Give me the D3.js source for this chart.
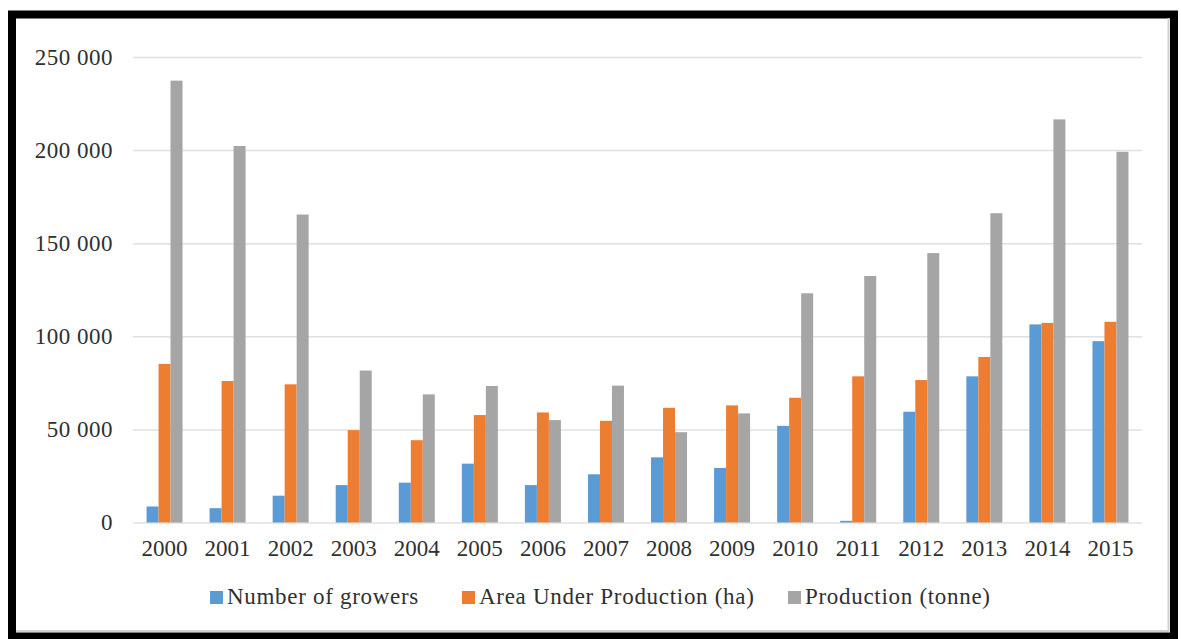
<!DOCTYPE html>
<html>
<head>
<meta charset="utf-8">
<script src="https://cdn.jsdelivr.net/npm/d3@7/dist/d3.min.js"></script>
<style>
  html, body { margin: 0; padding: 0; background: #fff; }
  svg { display: block; }
  text { font-family: "Liberation Serif", "Times New Roman", serif; fill: #303030; }
</style>
</head>
<body>
<svg id="chart" width="1181" height="639"></svg>
<script>
// Growers, area and production by year
const years = ["2000","2001","2002","2003","2004","2005","2006","2007",
               "2008","2009","2010","2011","2012","2013","2014","2015"];
const growers    = [8600, 7700, 14400, 20100, 21400, 31600, 20100, 25900,
                    35000, 29300, 51900, 900, 59500, 78500, 106400, 97400];
const areaHa     = [85200, 76000, 74200, 49600, 44200, 57700, 59100, 54600,
                    61600, 62900, 67000, 78500, 76500, 88900, 107200, 107800];
const production = [237300, 202200, 165400, 81600, 68800, 73300, 55000, 73500,
                    48500, 58600, 123100, 132400, 144700, 166100, 216500, 199100];
const seriesNames = ["Number of growers", "Area Under Production (ha)", "Production (tonne)"];
const seriesColors = ["#5B9BD5", "#ED7D31", "#A5A5A5"];
const yTicks = [0, 50000, 100000, 150000, 200000, 250000];

const seriesValues = [growers, areaHa, production];

const svg = d3.select("#chart");

// outer frame
svg.append("rect")
  .attr("x", 12).attr("y", 14.5)
  .attr("width", 1162).attr("height", 622)
  .attr("fill", "#fff")
  .attr("stroke", "#000").attr("stroke-width", 8);

// light chart-area edge on the right and bottom
svg.append("path")
  .attr("d", "M1168.5,18 V631 H16")
  .attr("fill", "none")
  .attr("stroke", "#cfcfcf").attr("stroke-width", 2);

const plotLeft = 133, plotRight = 1142, plotTop = 57, plotBottom = 522.5;

const x0 = d3.scaleBand().domain(years).range([plotLeft, plotRight]).padding(0);
const groupW = 36;
const x1 = d3.scaleBand().domain(seriesNames)
  .range([(x0.bandwidth() - groupW) / 2, (x0.bandwidth() + groupW) / 2])
  .padding(0);
const y = d3.scaleLinear().domain([0, 250000]).range([plotBottom, plotTop]);

const fmt = d3.formatLocale({ decimal: ".", thousands: " ", grouping: [3], currency: ["", ""] }).format(",");

// value axis with gridlines
const yAxis = svg.append("g")
  .attr("transform", `translate(${plotLeft},0)`)
  .call(d3.axisLeft(y).tickValues(yTicks).tickFormat(fmt)
    .tickSize(-(plotRight - plotLeft)).tickPadding(20));
yAxis.select(".domain").remove();
yAxis.selectAll(".tick line").attr("stroke", "#e0e0e0").attr("stroke-width", 1.5);
yAxis.selectAll(".tick text")
  .attr("font-size", 23).attr("fill", "#303030")
  .style("letter-spacing", "0.5px")
  .style("font-family", '"Liberation Serif", serif');

// bars
const groups = svg.append("g").selectAll("g")
  .data(years)
  .join("g")
  .attr("transform", d => `translate(${x0(d)},0)`);

groups.selectAll("rect")
  .data((d, i) => seriesNames.map((s, k) => ({ s, k, v: seriesValues[k][i] })))
  .join("rect")
  .attr("x", d => x1(d.s))
  .attr("width", x1.bandwidth())
  .attr("y", d => y(d.v))
  .attr("height", d => y(0) - y(d.v))
  .attr("fill", d => seriesColors[d.k]);

// category labels
const xAxis = svg.append("g")
  .attr("transform", `translate(0,${plotBottom})`)
  .call(d3.axisBottom(x0).tickSize(0).tickPadding(17));
xAxis.select(".domain").remove();
xAxis.selectAll(".tick text")
  .attr("font-size", 23).attr("fill", "#303030")
  .style("font-family", '"Liberation Serif", serif');

// legend
const legendX = [210, 462, 788];
const legend = svg.append("g").selectAll("g")
  .data(seriesNames)
  .join("g")
  .attr("transform", (d, i) => `translate(${legendX[i]},591)`);
legend.append("rect")
  .attr("width", 13).attr("height", 13)
  .attr("fill", (d, i) => seriesColors[i]);
legend.append("text")
  .attr("x", 17).attr("y", 13)
  .attr("font-size", 23)
  .style("letter-spacing", "0.7px")
  .text(d => d);
</script>
</body>
</html>
